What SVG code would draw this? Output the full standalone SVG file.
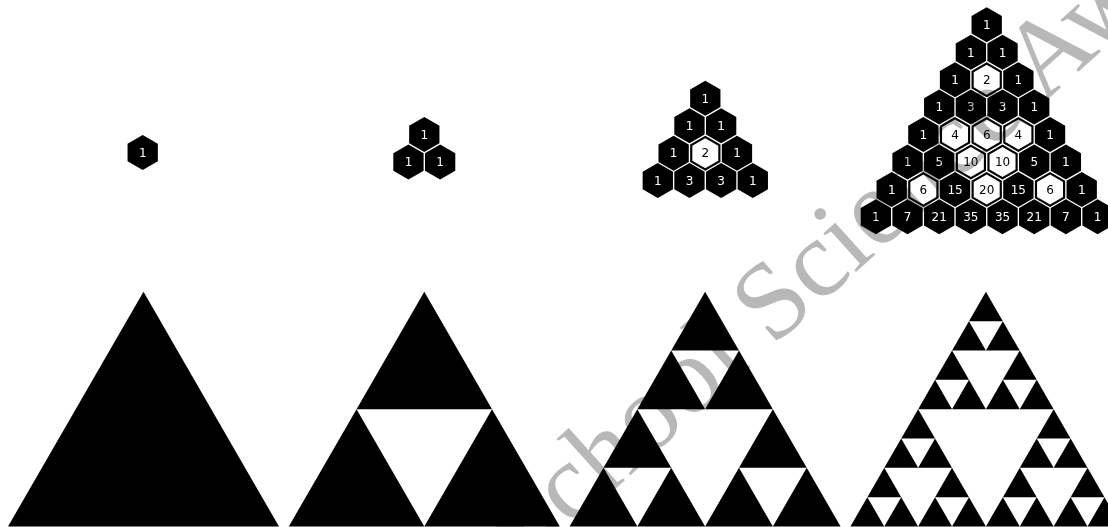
<svg xmlns="http://www.w3.org/2000/svg" xmlns:xlink="http://www.w3.org/1999/xlink" width="1108" height="527" viewBox="0 0 1108 527">
<style>
text.n{font-family:"DejaVu Sans",sans-serif;font-size:12px;text-anchor:middle}
.b text{fill:#ffffff}
.w text{fill:#000000}
.wm{font-family:"Liberation Serif",serif;font-size:110px;fill:#b8b8b8;mix-blend-mode:multiply}
</style>
<defs>
<path id="hx" d="M0-17.5L15.155-8.75L15.155 8.75L0 17.5L-15.155 8.75L-15.155-8.75Z" fill="#000"/>
<path id="hi" d="M0-15L12.99-7.5L12.99 7.5L0 15L-12.99 7.5L-12.99-7.5Z" fill="#fff"/>
<g id="hb"><use href="#hx"/></g>
<g id="hw"><use href="#hx"/><use href="#hi"/></g>
<path id="s0" d="M0 0L135.5 234.69L-135.5 234.69Z" fill="#000"/>
<g id="s1"><use href="#s0" transform="scale(0.5)"/><use href="#s0" transform="translate(-67.75 117.345) scale(0.5)"/><use href="#s0" transform="translate(67.75 117.345) scale(0.5)"/></g>
<g id="s2"><use href="#s1" transform="scale(0.5)"/><use href="#s1" transform="translate(-67.75 117.345) scale(0.5)"/><use href="#s1" transform="translate(67.75 117.345) scale(0.5)"/></g>
<g id="s3"><use href="#s2" transform="scale(0.5)"/><use href="#s2" transform="translate(-67.75 117.345) scale(0.5)"/><use href="#s2" transform="translate(67.75 117.345) scale(0.5)"/></g>
</defs>
<rect width="1108" height="527" fill="#fff"/>
<g id="sierpinski">
<use id="tri0" href="#s0" x="143.5" y="291.8"/>
<use id="tri1" href="#s1" x="424.3" y="291.8"/>
<use id="tri2" href="#s2" x="705.1" y="291.8"/>
<use id="tri3" href="#s3" x="985.9" y="291.8"/>
</g>
<g id="pascal1">
<g id="a0" class="b" transform="translate(142.7 152.5)"><use href="#hb"/><text class="n" y="4.3">1</text></g>
</g>
<g id="pascal2">
<g id="b0" class="b" transform="translate(424.3 134.6)"><use href="#hb"/><text class="n" y="4.3">1</text></g>
<g id="b1" class="b" transform="translate(408.47 162.03)"><use href="#hb"/><text class="n" y="4.3">1</text></g>
<g id="b2" class="b" transform="translate(440.14 162.03)"><use href="#hb"/><text class="n" y="4.3">1</text></g>
</g>
<g id="pascal3">
<g id="c0" class="b" transform="translate(705.3 98.3)"><use href="#hb"/><text class="n" y="4.3">1</text></g>
<g id="c1" class="b" transform="translate(689.47 125.73)"><use href="#hb"/><text class="n" y="4.3">1</text></g>
<g id="c2" class="b" transform="translate(721.14 125.73)"><use href="#hb"/><text class="n" y="4.3">1</text></g>
<g id="c3" class="b" transform="translate(673.63 153.16)"><use href="#hb"/><text class="n" y="4.3">1</text></g>
<g id="c4" class="w" transform="translate(705.3 153.16)"><use href="#hw"/><text class="n" y="4.3">2</text></g>
<g id="c5" class="b" transform="translate(736.97 153.16)"><use href="#hb"/><text class="n" y="4.3">1</text></g>
<g id="c6" class="b" transform="translate(657.8 180.59)"><use href="#hb"/><text class="n" y="4.3">1</text></g>
<g id="c7" class="b" transform="translate(689.47 180.59)"><use href="#hb"/><text class="n" y="4.3">3</text></g>
<g id="c8" class="b" transform="translate(721.14 180.59)"><use href="#hb"/><text class="n" y="4.3">3</text></g>
<g id="c9" class="b" transform="translate(752.81 180.59)"><use href="#hb"/><text class="n" y="4.3">1</text></g>
</g>
<g id="pascal4">
<g id="d0" class="b" transform="translate(986.7 24.8)"><use href="#hb"/><text class="n" y="4.3">1</text></g>
<g id="d1" class="b" transform="translate(970.87 52.23)"><use href="#hb"/><text class="n" y="4.3">1</text></g>
<g id="d2" class="b" transform="translate(1002.54 52.23)"><use href="#hb"/><text class="n" y="4.3">1</text></g>
<g id="d3" class="b" transform="translate(955.03 79.66)"><use href="#hb"/><text class="n" y="4.3">1</text></g>
<g id="d4" class="w" transform="translate(986.7 79.66)"><use href="#hw"/><text class="n" y="4.3">2</text></g>
<g id="d5" class="b" transform="translate(1018.37 79.66)"><use href="#hb"/><text class="n" y="4.3">1</text></g>
<g id="d6" class="b" transform="translate(939.2 107.09)"><use href="#hb"/><text class="n" y="4.3">1</text></g>
<g id="d7" class="b" transform="translate(970.87 107.09)"><use href="#hb"/><text class="n" y="4.3">3</text></g>
<g id="d8" class="b" transform="translate(1002.54 107.09)"><use href="#hb"/><text class="n" y="4.3">3</text></g>
<g id="d9" class="b" transform="translate(1034.21 107.09)"><use href="#hb"/><text class="n" y="4.3">1</text></g>
<g id="d10" class="b" transform="translate(923.36 134.52)"><use href="#hb"/><text class="n" y="4.3">1</text></g>
<g id="d11" class="w" transform="translate(955.03 134.52)"><use href="#hw"/><text class="n" y="4.3">4</text></g>
<g id="d12" class="w" transform="translate(986.7 134.52)"><use href="#hw"/><text class="n" y="4.3">6</text></g>
<g id="d13" class="w" transform="translate(1018.37 134.52)"><use href="#hw"/><text class="n" y="4.3">4</text></g>
<g id="d14" class="b" transform="translate(1050.04 134.52)"><use href="#hb"/><text class="n" y="4.3">1</text></g>
<g id="d15" class="b" transform="translate(907.53 161.95)"><use href="#hb"/><text class="n" y="4.3">1</text></g>
<g id="d16" class="b" transform="translate(939.2 161.95)"><use href="#hb"/><text class="n" y="4.3">5</text></g>
<g id="d17" class="w" transform="translate(970.87 161.95)"><use href="#hw"/><text class="n" y="4.3">10</text></g>
<g id="d18" class="w" transform="translate(1002.54 161.95)"><use href="#hw"/><text class="n" y="4.3">10</text></g>
<g id="d19" class="b" transform="translate(1034.21 161.95)"><use href="#hb"/><text class="n" y="4.3">5</text></g>
<g id="d20" class="b" transform="translate(1065.88 161.95)"><use href="#hb"/><text class="n" y="4.3">1</text></g>
<g id="d21" class="b" transform="translate(891.69 189.38)"><use href="#hb"/><text class="n" y="4.3">1</text></g>
<g id="d22" class="w" transform="translate(923.36 189.38)"><use href="#hw"/><text class="n" y="4.3">6</text></g>
<g id="d23" class="b" transform="translate(955.03 189.38)"><use href="#hb"/><text class="n" y="4.3">15</text></g>
<g id="d24" class="w" transform="translate(986.7 189.38)"><use href="#hw"/><text class="n" y="4.3">20</text></g>
<g id="d25" class="b" transform="translate(1018.37 189.38)"><use href="#hb"/><text class="n" y="4.3">15</text></g>
<g id="d26" class="w" transform="translate(1050.04 189.38)"><use href="#hw"/><text class="n" y="4.3">6</text></g>
<g id="d27" class="b" transform="translate(1081.71 189.38)"><use href="#hb"/><text class="n" y="4.3">1</text></g>
<g id="d28" class="b" transform="translate(875.86 216.81)"><use href="#hb"/><text class="n" y="4.3">1</text></g>
<g id="d29" class="b" transform="translate(907.53 216.81)"><use href="#hb"/><text class="n" y="4.3">7</text></g>
<g id="d30" class="b" transform="translate(939.2 216.81)"><use href="#hb"/><text class="n" y="4.3">21</text></g>
<g id="d31" class="b" transform="translate(970.87 216.81)"><use href="#hb"/><text class="n" y="4.3">35</text></g>
<g id="d32" class="b" transform="translate(1002.54 216.81)"><use href="#hb"/><text class="n" y="4.3">35</text></g>
<g id="d33" class="b" transform="translate(1034.21 216.81)"><use href="#hb"/><text class="n" y="4.3">21</text></g>
<g id="d34" class="b" transform="translate(1065.88 216.81)"><use href="#hb"/><text class="n" y="4.3">7</text></g>
<g id="d35" class="b" transform="translate(1097.55 216.81)"><use href="#hb"/><text class="n" y="4.3">1</text></g>
</g>
<g id="connectors"/>
<text class="wm" transform="translate(525 570) rotate(-42)">School Science Awards</text>
</svg>
